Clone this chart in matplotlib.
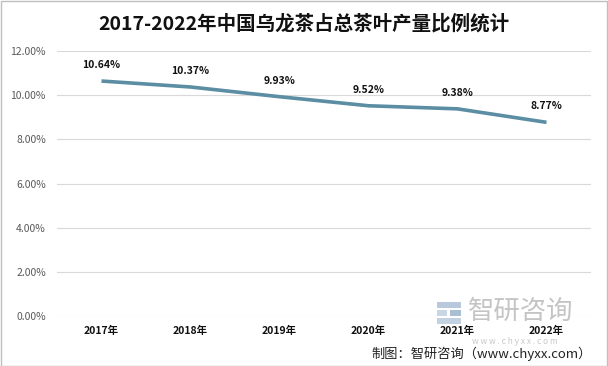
import matplotlib
matplotlib.use("Agg")
import matplotlib.pyplot as plt
from matplotlib.patches import Rectangle

plt.rcParams['font.family'] = ['Noto Sans CJK SC', 'DejaVu Sans']

years = ['2017年', '2018年', '2019年', '2020年', '2021年', '2022年']
values = [10.64, 10.37, 9.93, 9.52, 9.38, 8.77]
yticks = [0, 2, 4, 6, 8, 10, 12]
title = '2017-2022年中国乌龙茶占总茶叶产量比例统计'
source = '制图：智研咨询（www.chyxx.com）'

fig = plt.figure(figsize=(6.08, 3.66), dpi=100)
W, H = 608, 366
ax = fig.add_axes([57 / W, 1 - 316 / H, (591 - 57) / W, (316 - 51) / H])

# watermark (drawn behind)
fig.text(468 / W, 1 - 311 / H, '智研咨询', ha='left', va='center', fontsize=19, color='#c4c4c4')
for (x0, y0, w0, h0, c) in [(437, 302, 24, 6, '#b7c9da'), (437, 310, 10, 6, '#c9d6e3'),
                            (450, 310, 11, 6, '#a9bfd4'), (437, 318, 24, 6, '#c2d2e1')]:
    fig.patches.append(Rectangle((x0 / W, 1 - (y0 + h0) / H), w0 / W, h0 / H, transform=fig.transFigure,
                                 facecolor=c, edgecolor='none'))
fig.text(472 / W, 1 - 341.5 / H, 'w w w . c h y x x . c o m', ha='left', va='center', fontsize=6, color='#c8c8c8')

x = list(range(len(years)))
ax.plot(x, values, color='#5b8da3', lw=2.6, solid_capstyle='butt')
for xi, v in zip(x, values):
    ax.annotate(f'{v:.2f}%', (xi, v), xytext=(0, 8), textcoords='offset points',
                ha='center', va='bottom', fontsize=7.5, fontweight='bold', color='#111111')

ax.set_xlim(-0.5, len(years) - 0.5)
ax.set_ylim(0, 12)
ax.set_yticks(yticks)
ax.set_yticklabels([f'{t:.2f}%' for t in yticks], color='#595959', fontsize=7.5)
ax.set_xticks(x)
ax.set_xticklabels(years, fontsize=7.5, fontweight='bold', color='#111111')
ax.tick_params(axis='both', length=0)
ax.tick_params(axis='x', pad=7)
ax.tick_params(axis='y', pad=8)
ax.grid(axis='y', color='#d9d9d9', lw=0.8)
ax.set_axisbelow(True)
ax.patch.set_alpha(0)
for s in ax.spines.values():
    s.set_visible(False)

fig.text(304 / W, 1 - 24 / H, title, ha='center', va='center', fontsize=14, fontweight='bold', color='#111111')

fig.text(592 / W, 1 - 354 / H, source, ha='right', va='center', fontsize=9.5, color='#222222')

fig.patches.append(Rectangle((0.5 / W, 0.5 / H), 1 - 1.5 / W, 1 - 1.5 / H, transform=fig.transFigure,
                             facecolor='none', edgecolor='#bfbfbf', lw=1))

fig.savefig('out.png', dpi=100)
